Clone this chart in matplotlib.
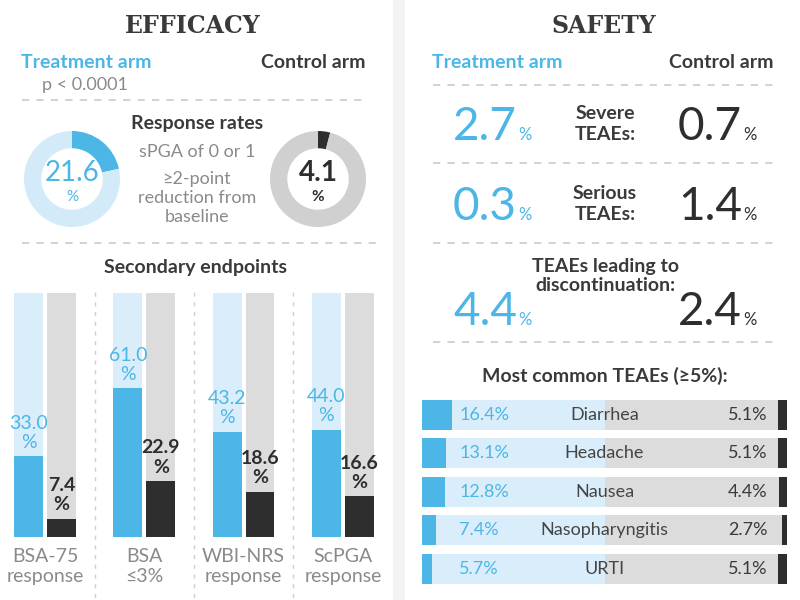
import numpy as np
import matplotlib
matplotlib.use("Agg")
import matplotlib.pyplot as plt
from matplotlib.patches import Rectangle

BLUE = "#4cb6e6"
LIGHT_BLUE = "#d9eefa"
GRAY_BG = "#dcdcdc"
DARK = "#2e2e2e"
TXT = "#3a3a3a"
MUTED = "#8a8a8a"
DASH = "#cfcfcf"

plt.rcParams["font.family"] = ["Lato", "DejaVu Sans"]

resp_treat = 21.6
resp_ctrl = 4.1
endpoints = ["BSA-75\nresponse", "BSA\n≤3%", "WBI-NRS\nresponse", "ScPGA\nresponse"]
end_treat = [33.0, 61.0, 43.2, 44.0]
end_ctrl = [7.4, 22.9, 18.6, 16.6]
safety_rows = ["Severe\nTEAEs:", "Serious\nTEAEs:", "TEAEs leading to\ndiscontinuation:"]
safety_treat = [2.7, 0.3, 4.4]
safety_ctrl = [0.7, 1.4, 2.4]
teae_names = ["Diarrhea", "Headache", "Nausea", "Nasopharyngitis", "URTI"]
teae_treat = [16.4, 13.1, 12.8, 7.4, 5.7]
teae_ctrl = [5.1, 5.1, 4.4, 2.7, 5.1]

W, H = 800, 600
fig = plt.figure(figsize=(8, 6), dpi=100)


def box(x0, y0, x1, y1):
    # pixel box (top-left origin) -> figure fraction
    return [x0 / W, 1 - y1 / H, (x1 - x0) / W, (y1 - y0) / H]


bg = fig.add_axes([0, 0, 1, 1])
bg.set_xlim(0, W)
bg.set_ylim(H, 0)
bg.axis("off")
bg.add_patch(Rectangle((393, 0), 12, 600, color="#f3f3f3", lw=0))

dash = dict(colors=DASH, linestyles=(0, (4, 4)), lw=1.3)
title = dict(family="DejaVu Serif", weight="bold", size=17,
             ha="center", va="center", color=TXT)

# ---- efficacy header
bg.text(193, 26, "EFFICACY", **title)
bg.text(86, 62, "Treatment arm", weight="bold", size=14, ha="center", va="center", color=BLUE)
bg.text(313, 62, "Control arm", weight="bold", size=14, ha="center", va="center", color=TXT)
bg.text(85, 85, "p < 0.0001", size=13, ha="center", va="center", color=MUTED)
bg.hlines(100, 22, 368, **dash)

bg.text(197, 123, "Response rates", weight="bold", size=14, ha="center", va="center", color=TXT)
bg.text(197, 152, "sPGA of 0 or 1", size=13, ha="center", va="center", color=MUTED)
bg.text(197, 198, "≥2-point\nreduction from\nbaseline", size=13, ha="center", va="center",
        color=MUTED, linespacing=1.22)

# donuts
for (x0, vals, cols, col, wt) in [(24, resp_treat, [BLUE, "#d3ebf9"], BLUE, "normal"),
                                  (270, resp_ctrl, [DARK, "#d0d0d0"], DARK, "bold")]:
    ax = fig.add_axes(box(x0, 131, x0 + 96, 227))
    ax.pie([vals, 100 - vals], colors=cols, startangle=90, counterclock=False,
           wedgeprops=dict(width=0.36, linewidth=0))
    ax.set_xlim(-1, 1)
    ax.set_ylim(-1, 1)
    ax.set_aspect("equal")
    ax.text(0, 0.12, f"{vals:.1f}", size=20, ha="center", va="center", color=col, weight=wt)
    ax.text(0, -0.38, "%", size=11, ha="center", va="center", color=col, weight=wt)

bg.hlines(243, 22, 382, **dash)

# ---- secondary endpoints
bg.text(195, 268, "Secondary endpoints", weight="bold", size=14, ha="center", va="center", color=TXT)
bg.vlines([95, 194, 293], 292, 600, colors=DASH, linestyles=(0, (3, 4)), lw=1)

sec = fig.add_axes(box(0, 293, 390, 537))
sec.patch.set_alpha(0)
step = 99.3
sec.set_xlim(-45 / step, (390 - 45) / step)
sec.set_ylim(0, 100)
x = np.arange(len(endpoints))
off, bw = 0.166, 0.29
sec.bar(x - off, 100, bw, color=LIGHT_BLUE, lw=0)
sec.bar(x + off, 100, bw, color=GRAY_BG, lw=0)
sec.bar(x - off, end_treat, bw, color=BLUE, lw=0)
sec.bar(x + off, end_ctrl, bw, color=DARK, lw=0)
for i in range(len(endpoints)):
    sec.annotate(f"{end_treat[i]:.1f}\n%", (x[i] - off, end_treat[i]), xytext=(0, 4),
                 textcoords="offset points", ha="center", va="bottom", color=BLUE,
                 size=14, linespacing=1.15)
    sec.annotate(f"{end_ctrl[i]:.1f}\n%", (x[i] + off, end_ctrl[i]), xytext=(0, 4),
                 textcoords="offset points", ha="center", va="bottom", color=DARK,
                 size=14, weight="bold", linespacing=1.15)
sec.set_xticks(x, endpoints)
sec.set_yticks([])
sec.tick_params(axis="x", length=0, pad=8, labelcolor=MUTED, labelsize=14)
for lbl in sec.get_xticklabels():
    lbl.set_linespacing(1.2)
for s in sec.spines.values():
    s.set_visible(False)

# ---- safety
bg.text(604, 26, "SAFETY", **title)
bg.text(497, 62, "Treatment arm", weight="bold", size=14, ha="center", va="center", color=BLUE)
bg.text(721, 62, "Control arm", weight="bold", size=14, ha="center", va="center", color=TXT)
bg.hlines([85, 163, 243, 342], 433, 777, **dash)

baselines = [140, 220, 325]
label_y = [124, 204, 276]
for i in range(len(safety_rows)):
    b = baselines[i]
    bg.text(517, b, f"{safety_treat[i]:.1f}", size=33, ha="right", va="baseline", color=BLUE)
    bg.text(518, b, "%", size=12, ha="left", va="baseline", color=BLUE)
    bg.text(742, b, f"{safety_ctrl[i]:.1f}", size=33, ha="right", va="baseline", color=DARK)
    bg.text(743, b, "%", size=12, ha="left", va="baseline", color=DARK)
    bg.text(605, label_y[i], safety_rows[i], weight="bold", size=14, ha="center",
            va="center", color=TXT, linespacing=1.25 if i < 2 else 1.1)

bg.text(605, 376, "Most common TEAEs (≥5%):", weight="bold", size=14, ha="center",
        va="center", color=TXT)

tx = fig.add_axes(box(422, 400, 787, 584))
tx.set_xlim(0, 200)
tx.set_ylim(4.4, -0.39)
tx.axis("off")
y = np.arange(len(teae_names))
tx.barh(y, 100, height=0.78, left=0, color=LIGHT_BLUE, lw=0)
tx.barh(y, 100, height=0.78, left=100, color=GRAY_BG, lw=0)
tx.barh(y, teae_treat, height=0.78, left=0, color=BLUE, lw=0)
tx.barh(y, teae_ctrl, height=0.78, left=[200 - c for c in teae_ctrl], color=DARK, lw=0)
for i in range(len(teae_names)):
    tx.text(20.3, y[i], f"{teae_treat[i]:.1f}%", ha="left", va="center", color=BLUE, size=13)
    tx.text(100, y[i], teae_names[i], ha="center", va="center", color="#454545", size=13)
    tx.text(189.5, y[i], f"{teae_ctrl[i]:.1f}%", ha="right", va="center", color=TXT, size=13)

fig.savefig("out.png", dpi=100, facecolor="white")
